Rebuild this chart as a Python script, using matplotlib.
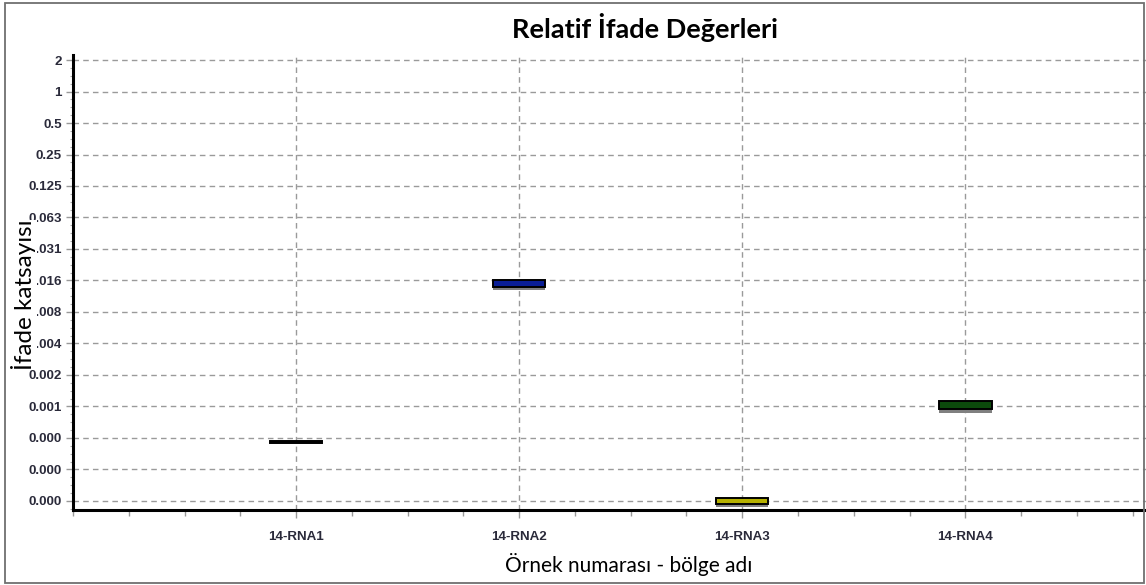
import numpy as np
import matplotlib
matplotlib.use("Agg")
import matplotlib.pyplot as plt
from matplotlib import patheffects
from matplotlib.font_manager import FontProperties
from matplotlib.ticker import FixedLocator, FixedFormatter, MultipleLocator, NullFormatter
from matplotlib.patches import Rectangle

# Sample names and relative expression ranges (lower / upper bound of each box)
samples = ["14-RNA1", "14-RNA2", "14-RNA3", "14-RNA4"]
expr_low = [0.000436, 0.0136, 0.000115, 0.00092]
expr_high = [0.000452, 0.0157, 0.000131, 0.00110]
box_colors = ["#000000", "#0a1e96", "#b5b000", "#0c4a0c"]

# Log2 y ticks and their printed labels
ytick_values = [2.0 ** k for k in range(1, -14, -1)]
ytick_labels = ["2", "1", "0.5", "0.25", "0.125", "0.063", "0.031", "0.016",
                "0.008", "0.004", "0.002", "0.001", "0.000", "0.000", "0.000"]

W, H = 1146, 585
fig = plt.figure(figsize=(W / 100, H / 100), dpi=100)
ax = fig.add_axes([73 / W, 1 - 510 / H, (W - 73) / W, (510 - 55) / H])

ax.set_yscale("log", base=2)
ax.set_ylim(2.0 ** -13.29, 2.0 ** 1.16)
ax.set_xlim(0, 4.81)

x = np.arange(1, len(samples) + 1)
low = np.array(expr_low)
high = np.array(expr_high)
bars = ax.bar(x, high - low, bottom=low, width=0.235, color=box_colors,
              edgecolor="black", linewidth=1.4, zorder=3)
shadow = [patheffects.SimplePatchShadow(offset=(0, -2.5), shadow_rgbFace="#808080",
                                        alpha=1.0),
          patheffects.Normal()]
for bar in bars[1:]:
    bar.set_path_effects(shadow)

# Axes, ticks and grid
ax.yaxis.set_major_locator(FixedLocator(ytick_values))
ax.yaxis.set_major_formatter(FixedFormatter(ytick_labels))
ax.yaxis.set_minor_locator(FixedLocator([2.0 ** (k / 4) for k in range(-56, 8)]))
ax.yaxis.set_minor_formatter(NullFormatter())
ax.xaxis.set_major_locator(FixedLocator(x))
ax.xaxis.set_major_formatter(FixedFormatter(samples))
ax.xaxis.set_minor_locator(MultipleLocator(0.25))
ax.xaxis.set_minor_formatter(NullFormatter())

tick_font = FontProperties(family="Liberation Sans", weight="bold", size=9.6)
for lab in ax.get_yticklabels() + ax.get_xticklabels():
    lab.set_fontproperties(tick_font)
    lab.set_color("#2a2a3a")

ax.tick_params(axis="y", which="major", length=5, width=1, color="#999999", pad=3)
ax.tick_params(axis="y", which="minor", length=2, width=0.8, color="#aaaaaa")
ax.tick_params(axis="x", which="major", length=6, width=1, color="#999999", pad=9)
ax.tick_params(axis="x", which="minor", length=4, width=1, color="#999999")

ax.grid(True, which="major", color="#9a9a9a", linestyle=(0, (4, 3)), linewidth=1.0, zorder=0)
ax.set_axisbelow(True)

for side in ["top", "right"]:
    ax.spines[side].set_visible(False)
for side in ["left", "bottom"]:
    ax.spines[side].set_linewidth(2.2)
    ax.spines[side].set_color("black")

ax.set_ylabel("İfade katsayısı", family="Lato", size=17.5, va="center",
              bbox=dict(facecolor="white", edgecolor="none", pad=0))
ax.yaxis.set_label_coords((24 - 73) / (W - 73), (510 - 295) / (510 - 55))
ax.set_xlabel("Örnek numarası - bölge adı", family="Lato", size=15, va="center")
ax.xaxis.set_label_coords((629 - 73) / (W - 73), -(565 - 510) / (510 - 55))

fig.text(645 / W, 1 - 28 / H, "Relatif İfade Değerleri", family="Lato",
         weight="bold", size=19.5, ha="center", va="center")

# Outer frame around the whole chart
fig.patches.append(Rectangle((5 / W, 2 / H), (1144 - 5) / W, (582 - 2) / H,
                             transform=fig.transFigure, fill=False,
                             edgecolor="#707070", linewidth=1.3))

fig.savefig("out.png", dpi=100)
